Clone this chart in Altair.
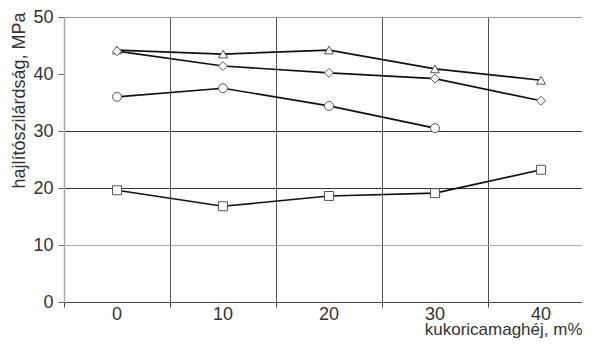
import altair as alt
import pandas as pd

x_cats = ["0", "10", "20", "30", "40"]
s_triangle = [44.2, 43.5, 44.2, 40.9, 38.9]
s_diamond = [44.0, 41.4, 40.2, 39.2, 35.3]
s_circle = [36.0, 37.5, 34.4, 30.5, None]
s_square = [19.6, 16.8, 18.6, 19.1, 23.2]
series_names = ["triangle", "diamond", "circle", "square"]
series_shapes = ["triangle-up", "diamond", "circle", "square"]
y_ticks = [0, 10, 20, 30, 40, 50]

rows = []
for name, vals in zip(series_names, [s_triangle, s_diamond, s_circle, s_square]):
    for x, v in zip(x_cats, vals):
        if v is not None:
            rows.append({"x": x, "y": v, "s": name})
df = pd.DataFrame(rows)

FONT = "Liberation Sans"

x_enc = alt.X(
    "x:N",
    sort=x_cats,
    scale=alt.Scale(type="band", domain=x_cats, paddingInner=0, paddingOuter=0, range=[0, 530]),
    axis=alt.Axis(
        title="kukoricamaghéj, m%",
        labelAngle=0,
        bandPosition=0,
        grid=True,
        gridColor="#555",
        gridWidth=1,
        domainColor="#444",
        tickColor="#444",
        tickSize=5,
        labelPadding=-2,
        titleAlign="right",
        titleX=518,
        titleY=32,
        titleBaseline="alphabetic",
        titleFontSize=17,
    ),
)
y_enc = alt.Y(
    "y:Q",
    scale=alt.Scale(domain=[0, 50], nice=False),
    axis=alt.Axis(
        title="hajlítószilárdság, MPa",
        values=y_ticks,
        grid=True,
        gridColor={
            "condition": [
                {"test": "datum.value === 40", "value": "transparent"},
                {"test": "datum.value === 10", "value": "#aaa"},
                {"test": "datum.value === 50", "value": "#999"},
            ],
            "value": "#333",
        },
        domainColor="#aaa",
        domainWidth=1.5,
        tickColor="#666",
        tickSize=6,
        labelPadding=5,
        titleAngle=270,
        titleAlign="right",
        titleBaseline="middle",
        titleX=-45,
        titleY=-5,
        titleFontSize=18,
    ),
)

color_scale = alt.Scale(domain=series_names, range=["#111"] * 4)
shape_scale = alt.Scale(domain=series_names, range=series_shapes)

lines = alt.Chart(df).mark_line(strokeWidth=1.7).encode(
    x=x_enc,
    y=y_enc,
    detail="s:N",
    color=alt.Color("s:N", scale=color_scale, legend=None),
)
points = alt.Chart(df).mark_point(filled=True, fill="white", stroke="#555", strokeWidth=1, size=80, opacity=1).encode(
    x=x_enc,
    y=y_enc,
    shape=alt.Shape("s:N", scale=shape_scale, legend=None),
)

chart = (
    alt.layer(lines, points)
    .properties(
        width=518,
        height=285,
        autosize=alt.AutoSizeParams(type="none"),
        padding={"left": 56, "top": 9, "right": 0, "bottom": 36},
    )
    .configure_view(stroke=None)
    .configure_axis(
        labelFont=FONT,
        titleFont=FONT,
        labelFontSize=18,
        titleFontWeight="normal",
        labelColor="#333",
        titleColor="#333",
    )
)

chart.save("out.html", embed_options={"renderer": "svg", "actions": False})
